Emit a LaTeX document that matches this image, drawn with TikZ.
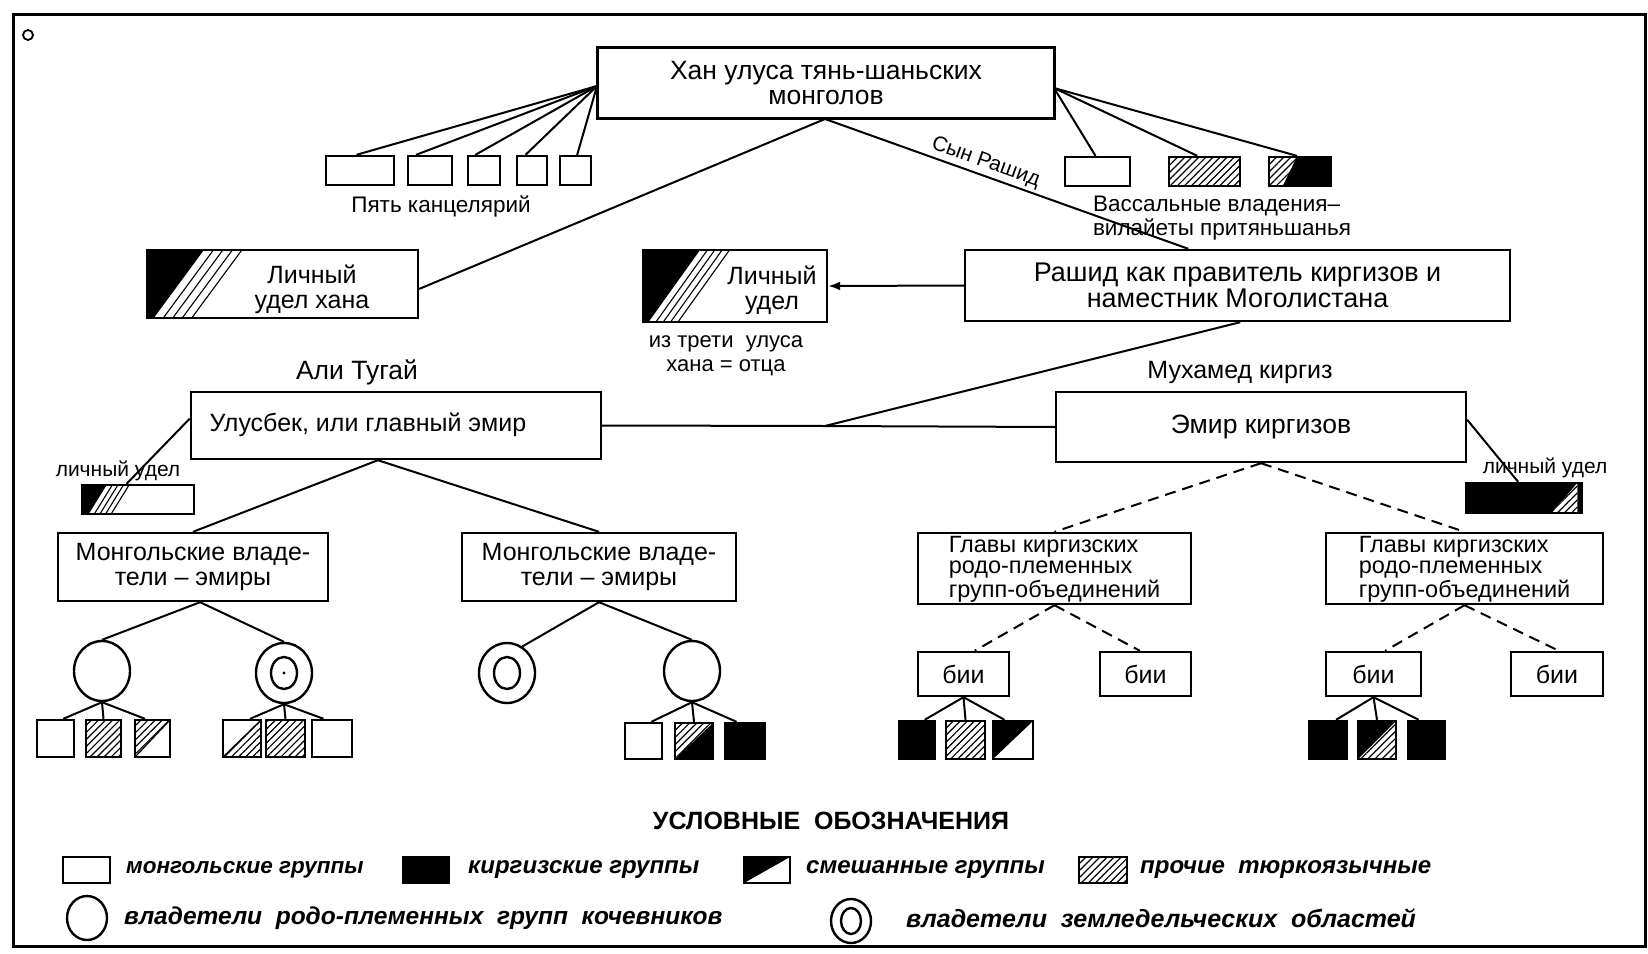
\documentclass[tikz,border=0pt]{standalone}
\usepackage{fontspec}
\setmainfont{Liberation Sans}
\usetikzlibrary{calc,patterns.meta,shapes.geometric,arrows.meta}
\newcommand{\fsA}{\fontsize{25}{25}\selectfont}
\newcommand{\fsAA}{\fontsize{26.5}{25}\selectfont}
\newcommand{\fsB}{\fontsize{23.5}{21}\selectfont}
\newcommand{\fsC}{\fontsize{21}{22}\selectfont}
\newcommand{\fsD}{\fontsize{22.5}{23.5}\selectfont}
\newcommand{\fsL}{\fontsize{24}{26}\selectfont\bfseries\itshape}
\newcommand{\fsT}{\fontsize{25}{27}\selectfont\bfseries}
\newcommand{\kirtext}{\raisebox{-1.5pt}[\height][\depth]{\begin{tabular}{@{}l@{}}Главы киргизских\\родо-племенных\\групп-объединений\end{tabular}}}
\newcommand{\ppcoords}{\path (path picture bounding box.north west) coordinate (pNW)
  (path picture bounding box.north east) coordinate (pNE)
  (path picture bounding box.south west) coordinate (pSW)
  (path picture bounding box.south east) coordinate (pSE);}
\tikzset{
  box/.style={draw, line width=2.4pt, fill=white, inner sep=0pt, align=center, font=\fsA},
  sz/.style 2 args={minimum width=#1pt, minimum height=#2pt},
  conn/.style={line width=2pt},
  dconn/.style={line width=2pt, dash pattern=on 11pt off 7pt},
  txt/.style={inner sep=0pt, align=center, font=\fsA},
  stxt/.style={inner sep=0pt, align=center, font=\fsC},
  legtxt/.style={inner sep=0pt, anchor=west, font=\fsL},
  hatchpat/.style={pattern={Lines[angle=45,distance=5pt,line width=1.2pt]}},
  hatchbox/.style={path picture={\ppcoords \fill[hatchpat] (pNW) rectangle (pSE);}},
  ell/.style={draw, ellipse, line width=2.4pt, minimum width=56pt, minimum height=60pt, inner sep=0pt, fill=white},
  ellin/.style={draw, ellipse, line width=2.4pt, minimum width=26pt, minimum height=32pt, inner sep=0pt},
  udelfill/.style n args={3}{path picture={\ppcoords
    \fill[black] (pNW) -- ($(pNW)!#1!(pNE)$) -- ($(pSW)!#2!(pSE)$) -- (pSW) -- cycle;
    \foreach \k in {1,2,3,4}{\pgfmathsetmacro\ta{#1+\k*#3}\pgfmathsetmacro\tb{#2+\k*#3}
      \draw[line width=1.1pt] ($(pNW)!\ta!(pNE)$) -- ($(pSW)!\tb!(pSE)$);}
  }},
  mixBW/.style={path picture={\ppcoords \fill[black] (pNW) -- (pNE) -- (pSW) -- cycle;}},
  mixHB/.style={path picture={\ppcoords \fill[black] (pNE) -- (pSE) -- (pSW) -- cycle;
     \fill[hatchpat] (pNW) -- (pNE) -- (pSW) -- cycle;}},
  mixBH/.style={path picture={\ppcoords \fill[black] (pNW) -- (pNE) -- (pSW) -- cycle;
     \fill[hatchpat] (pNE) -- (pSE) -- (pSW) -- cycle;}},
  mixHW/.style={path picture={\ppcoords \fill[hatchpat] (pNW) -- (pNE) -- (pSW) -- cycle;
     \draw[line width=1.2pt] (pNE) -- (pSW);}},
  mixWH/.style={path picture={\ppcoords \fill[hatchpat] (pNE) -- (pSE) -- (pSW) -- cycle;
     \draw[line width=1.2pt] (pNE) -- (pSW);}},
}
\begin{document}
\begin{tikzpicture}[x=1pt,y=-1pt]
\path[use as bounding box, fill=white] (0,0) rectangle (1648,953);
\draw[line width=3pt] (13,14) rectangle (1645,946);
\node[draw, circle, line width=1.8pt, minimum size=10pt, inner sep=0pt] (speck) at (28,35) {};

% ---- Khan
\node[box, sz={457}{71}, font=\fsAA] (khan) at (826,83) {Хан улуса тянь-шаньских\\монголов};
\coordinate (khanL) at (597,86);
\coordinate (khanR) at (1054,88);
\coordinate (khanB) at (825,119);

% five chancelleries
\node[box, sz={68}{29}] (c1) at (360,170.5) {};
\node[box, sz={44}{29}] (c2) at (430,170.5) {};
\node[box, sz={32}{29}] (c3) at (484,170.5) {};
\node[box, sz={30}{29}] (c4) at (532,170.5) {};
\node[box, sz={31}{29}] (c5) at (575.5,170.5) {};
\draw[conn] (khanL) -- ($(c1.north west)!0.45!(c1.north east)$);
\draw[conn] (khanL) -- ($(c2.north west)!0.2!(c2.north east)$);
\draw[conn] (khanL) -- ($(c3.north west)!0.25!(c3.north east)$);
\draw[conn] (khanL) -- ($(c4.north west)!0.3!(c4.north east)$);
\draw[conn] (khanL) -- ($(c5.north west)!0.55!(c5.north east)$);
\node[txt, font=\fsD] (pyat) at (441,206) {Пять канцелярий};

% vassal domains
\node[box, sz={65}{29}] (v1) at (1097.5,171.5) {};
\node[box, sz={71}{29}, hatchbox] (v2) at (1204.5,171.5) {};
\node[box, sz={62}{29}, path picture={\ppcoords \fill[hatchpat] (pNW) rectangle (pSE);
   \fill[black] ($(pNW)!0.45!(pNE)$) -- (pNE) -- (pSE) -- ($(pSW)!0.22!(pSE)$) -- cycle;}] (v3) at (1300,171.5) {};
\draw[conn] (khanR) -- ($(v1.north west)!0.47!(v1.north east)$);
\draw[conn] (khanR) -- ($(v2.north west)!0.4!(v2.north east)$);
\draw[conn] (khanR) -- ($(v3.north west)!0.45!(v3.north east)$);
\node[txt, align=left, font=\fsD] (vas) at (1222,218) {Вассальные владения–\\вилайеты притяньшанья};

% Rashid
\node[box, sz={545}{71}, font=\fontsize{27}{26}\selectfont] (rashid) at (1237.5,285.5) {Рашид как правитель киргизов и\\наместник Моголистана};
\draw[conn] (khanB) -- node[pos=0.43, above=3pt, sloped, stxt] (syn) {Сын Рашид} ($(rashid.north west)!0.41!(rashid.north east)$);

% personal domain of the khan
\node[box, sz={271}{68}, udelfill={0.21}{0.025}{0.035}] (uk) at (282.5,284) {};
\node[txt] (ukt) at (312,289) {Личный\\удел хана};
\draw[conn] (khanB) -- ($(uk.north east)!0.57!(uk.south east)$);

% personal domain middle
\node[box, sz={184}{72}, udelfill={0.31}{0.03}{0.04}] (um) at (735,286) {};
\node[txt] (umt) at (772,290) {Личный\\удел};
\draw[conn, -{Latex[length=12pt,width=9pt]}] (rashid.west) -- (um.east);
\node[stxt, font=\fontsize{22}{24}\selectfont] (treti) at (726,356) {из трети \ улуса\\хана = отца};

% emirs
\node[txt, font=\fsAA] (ali) at (357,372) {Али Тугай};
\node[txt] (muh) at (1240,372) {Мухамед киргиз};
\node[box, sz={410}{67}] (ulus) at (396,425.5) {};
\node[txt] (ulust) at (368,425) {Улусбек, или главный эмир};
\node[box, sz={410}{70}, font=\fsAA] (emir) at (1261,427) {Эмир киргизов};
\coordinate (J) at (825,426);
\draw[conn] (ulus.east) -- (J) -- (emir.west);
\draw[conn] ($(rashid.south west)!0.505!(rashid.south east)$) -- (J);

% small personal domains
\node[stxt] (ult) at (118,471) {личный удел};
\node[box, sz={112}{29}, udelfill={0.22}{0.06}{0.05}] (ul) at (138,499.5) {};
\draw[conn] ($(ulus.north west)!0.4!(ulus.south west)$) -- ($(ul.north west)!0.4!(ul.north east)$);
\node[stxt] (urt) at (1545,468) {личный удел};
\node[box, sz={116}{30}, fill=black, path picture={\ppcoords
   \fill[white] ($(pSW)!0.74!(pSE)$) -- ($(pSW)!0.96!(pSE)$) -- ($(pNW)!0.96!(pNE)$) -- cycle;
   \fill[hatchpat] ($(pSW)!0.74!(pSE)$) -- ($(pSW)!0.96!(pSE)$) -- ($(pNW)!0.96!(pNE)$) -- cycle;}] (ur) at (1524,498) {};
\draw[conn] ($(emir.north east)!0.4!(emir.south east)$) -- ($(ur.north west)!0.45!(ur.north east)$);

% Mongol owners
\node[box, sz={270}{68}] (mL) at (193,567) {Монгольские владе-\\тели – эмиры};
\node[box, sz={274}{68}] (mR) at (599,567) {Монгольские владе-\\тели – эмиры};
\coordinate (ulusB) at ($(ulus.south west)!0.456!(ulus.south east)$);
\draw[conn] (ulusB) -- (mL.north);
\draw[conn] (ulusB) -- (mR.north);

% Kyrgyz heads
\node[box, sz={273}{71}, font=\fsB] (kL) at (1054.5,568.5) {\kirtext};
\node[box, sz={277}{71}, font=\fsB] (kR) at (1464.5,568.5) {\kirtext};
\draw[dconn] (emir.south) -- (kL.north);
\draw[dconn] (emir.south) -- (kR.north);

% circles
\node[ell] (o1) at (102,671) {};
\node[ell] (o2) at (284,673) {};
\node[ellin] (o2i) at (284,673) {};
\fill (o2.center) circle (1.6);
\node[ell] (o3) at (507,673) {};
\node[ellin] (o3i) at (507,673) {};
\node[ell] (o4) at (692,671) {};
\coordinate (mLB) at ($(mL.south west)!0.526!(mL.south east)$);
\draw[conn] (mLB) -- (o1.north);
\draw[conn] (mLB) -- (o2.north);
\draw[conn] (mR.south) -- (o3.60);
\draw[conn] (mR.south) -- (o4.north);

% squares under circles
\node[box, sz={37}{37}] (s11) at (55.5,738.5) {};
\node[box, sz={35}{37}, hatchbox] (s12) at (103.5,738.5) {};
\node[box, sz={35}{37}, mixHW] (s13) at (152.5,738.5) {};
\node[box, sz={38}{37}, mixWH] (s21) at (242,738.5) {};
\node[box, sz={39}{37}, hatchbox] (s22) at (285.5,738.5) {};
\node[box, sz={40}{37}] (s23) at (332,738.5) {};
\node[box, sz={37}{36}] (s41) at (643.5,741) {};
\node[box, sz={38}{36}, mixHB] (s42) at (694,741) {};
\node[box, sz={40}{36}, fill=black] (s43) at (745,741) {};
\draw[conn] (o1.south) -- ($(s11.north west)!0.7!(s11.north east)$);
\draw[conn] (o1.south) -- (s12.north);
\draw[conn] (o1.south) -- ($(s13.north west)!0.3!(s13.north east)$);
\draw[conn] (o2.south) -- ($(s21.north west)!0.7!(s21.north east)$);
\draw[conn] (o2.south) -- (s22.north);
\draw[conn] (o2.south) -- ($(s23.north west)!0.3!(s23.north east)$);
\draw[conn] (o4.south) -- ($(s41.north west)!0.7!(s41.north east)$);
\draw[conn] (o4.south) -- (s42.north);
\draw[conn] (o4.south) -- ($(s43.north west)!0.3!(s43.north east)$);

% bii
\node[box, sz={91}{44}] (b1) at (963.5,674) {бии};
\node[box, sz={91}{44}] (b2) at (1145.5,674) {бии};
\node[box, sz={95}{44}] (b3) at (1373.5,674) {бии};
\node[box, sz={92}{44}] (b4) at (1557,674) {бии};
\draw[dconn] (kL.south) -- ($(b1.north west)!0.62!(b1.north east)$);
\draw[dconn] (kL.south) -- ($(b2.north west)!0.44!(b2.north east)$);
\draw[dconn] (kR.south) -- ($(b3.north west)!0.62!(b3.north east)$);
\draw[dconn] (kR.south) -- ($(b4.north west)!0.52!(b4.north east)$);

\node[box, sz={36}{38}, fill=black] (s51) at (917,740) {};
\node[box, sz={39}{38}, hatchbox] (s52) at (965.5,740) {};
\node[box, sz={40}{38}, mixBW] (s53) at (1013,740) {};
\node[box, sz={38}{38}, fill=black] (s61) at (1328,740) {};
\node[box, sz={38}{38}, mixBH] (s62) at (1377,740) {};
\node[box, sz={37}{38}, fill=black] (s63) at (1426.5,740) {};
\draw[conn] (b1.south) -- ($(s51.north west)!0.7!(s51.north east)$);
\draw[conn] (b1.south) -- (s52.north);
\draw[conn] (b1.south) -- ($(s53.north west)!0.3!(s53.north east)$);
\draw[conn] (b3.south) -- ($(s61.north west)!0.7!(s61.north east)$);
\draw[conn] (b3.south) -- (s62.north);
\draw[conn] (b3.south) -- ($(s63.north west)!0.3!(s63.north east)$);

% legend
\node[inner sep=0pt, font=\fsT] (leg) at (831,821) {УСЛОВНЫЕ \ ОБОЗНАЧЕНИЯ};
\node[box, sz={47}{26}] (l1) at (86.5,870) {};
\node[legtxt, font=\fontsize{22.5}{26}\selectfont\bfseries\itshape] (l1t) at (126,870) {монгольские группы};
\node[box, sz={46}{26}, fill=black] (l2) at (426,870) {};
\node[legtxt] (l2t) at (468,870) {киргизские группы};
\node[box, sz={46}{26}, mixBW] (l3) at (767,870) {};
\node[legtxt] (l3t) at (806,870) {смешанные группы};
\node[box, sz={48}{26}, hatchbox] (l4) at (1103,870) {};
\node[legtxt] (l4t) at (1140,870) {прочие \ тюркоязычные};
\node[ell, minimum width=40pt, minimum height=44pt] (l5) at (87,918) {};
\node[legtxt, font=\fontsize{24.5}{26}\selectfont\bfseries\itshape] (l5t) at (124,918) {владетели \ родо-племенных \ групп \ кочевников};
\node[ell, minimum width=40pt, minimum height=44pt] (l6) at (851,921) {};
\node[ellin, minimum width=20pt, minimum height=26pt] (l6i) at (851,921) {};
\node[legtxt, font=\fontsize{25}{26}\selectfont\bfseries\itshape] (l6t) at (906,918) {владетели \ земледельческих \ областей};
\end{tikzpicture}
\end{document}
